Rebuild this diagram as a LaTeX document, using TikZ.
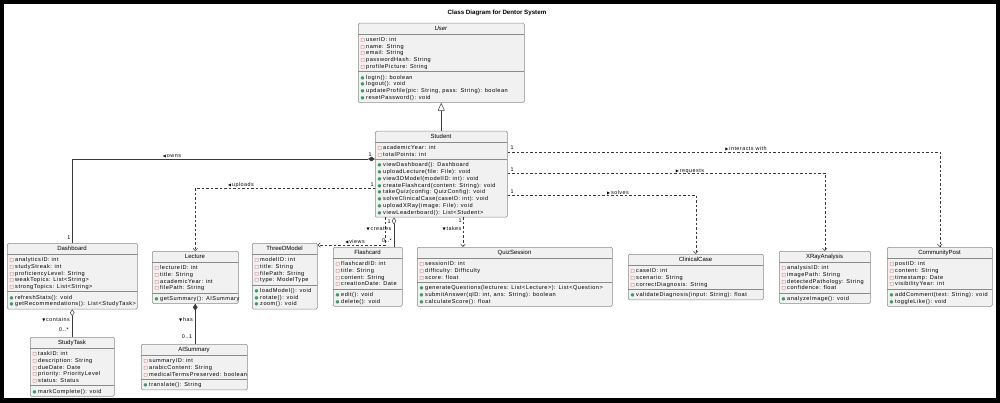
\documentclass[tikz,border=0pt]{standalone}
\usepackage{fontspec}
\setmainfont{Liberation Sans}
\newfontfamily\cff[LetterSpace=9]{Liberation Sans}
\newfontfamily\symf{DejaVu Sans}
\usetikzlibrary{arrows.meta}
\definecolor{boxfill}{HTML}{F1F1F1}
\definecolor{boxline}{HTML}{8A8A8A}
\definecolor{privred}{HTML}{C82930}
\definecolor{pubgreen}{HTML}{3E9A64}
\definecolor{lnk}{HTML}{3A3A3A}
\newcommand{\cfont}{\cff\fontsize{5.6}{6.75}\selectfont}
\newcommand{\pv}{\makebox[5.5pt][l]{\symf\fontsize{4.5}{5}\selectfont\textcolor{privred}{□}}}
\newcommand{\pb}{\makebox[5.5pt][l]{\symf\fontsize{4.5}{5}\selectfont\textcolor{pubgreen}{●}}}
\newcommand{\tri}[1]{{\symf\fontsize{4}{5}\selectfont #1}\,}
\tikzset{
  cbox/.style={draw=boxline, fill=boxfill, rounded corners=1.2pt, line width=0.5pt, inner sep=0pt, anchor=north west},
  sepline/.style={draw=boxline, line width=0.5pt},
  ctitle/.style={font=\fontsize{6}{7}\selectfont, inner sep=0pt, anchor=center},
  clines/.style={font=\cfont, inner sep=0pt, anchor=base west},
  lbl/.style={font=\cff\fontsize{5.4}{6}\selectfont, inner sep=0.5pt, text=black},
  dep/.style={draw=lnk, line width=0.5pt, dash pattern=on 2.5pt off 2pt, -{Straight Barb[length=2.5pt,width=4.5pt]}},
  comp/.style={draw=lnk, line width=0.5pt, {Diamond[length=7pt,width=4.5pt]}-},
  agg/.style={draw=lnk, line width=0.5pt, {Diamond[open,length=7pt,width=4.5pt]}-},
  inh/.style={draw=lnk, line width=0.5pt, -{Triangle[open,length=8pt,width=7pt]}}
}
\newcommand{\umlclass}[9]{%
  \pgfmathsetmacro\Chy{#4+11}%
  \pgfmathsetmacro\Cay{\Chy+7.5+(#5-1)*6.75+3.2}%
  \pgfmathsetmacro\Cby{\Cay+7.5+(#6-1)*6.75+2.8}%
  \pgfmathsetmacro\Cbw{#3-#2}%
  \pgfmathsetmacro\Cbh{\Cby-#4}%
  \node[cbox, minimum width=\Cbw pt, minimum height=\Cbh pt] (#1) at (#2,#4) {};
  \draw[sepline] (#2,\Chy) -- (#3,\Chy);
  \draw[sepline] (#2,\Cay) -- (#3,\Cay);
  \node[ctitle] (#1-t) at ({(#2+#3)/2},{#4+5.7}) {#7};
  \node[clines] (#1-a) at (#2+2.5,\Chy+7.5) {\begin{tabular}[t]{@{}l@{}}#8\end{tabular}};
  \node[clines] (#1-m) at (#2+2.5,\Cay+7.5) {\begin{tabular}[t]{@{}l@{}}#9\end{tabular}};
}
\begin{document}
\begin{tikzpicture}[x=1pt,y=-1pt]
\useasboundingbox (0,0) rectangle (1000,403);
\fill[black] (0,0) rectangle (1000,403);
\fill[white] (4,4) rectangle (996,398);
\node[font=\bfseries\fontsize{6.2}{7}\selectfont] (title) at (497,13) {Class Diagram for Dentor System};

\umlclass{user}{358}{524}{23}{5}{4}{\textit{User}}
 {\pv userID: int\\ \pv name: String\\ \pv email: String\\ \pv passwordHash: String\\ \pv profilePicture: String}
 {\pb login(): boolean\\ \pb logout(): void\\ \pb updateProfile(pic: String, pass: String): boolean\\ \pb resetPassword(): void}

\umlclass{student}{375}{507}{131}{2}{8}{Student}
 {\pv academicYear: int\\ \pv totalPoints: int}
 {\pb viewDashboard(): Dashboard\\ \pb uploadLecture(file: File): void\\ \pb view3DModel(modelID: int): void\\ \pb createFlashcard(content: String): void\\ \pb takeQuiz(config: QuizConfig): void\\ \pb solveClinicalCase(caseID: int): void\\ \pb uploadXRay(image: File): void\\ \pb viewLeaderboard(): List<Student>}

\umlclass{dashboard}{7}{137}{243}{5}{2}{Dashboard}
 {\pv analyticsID: int\\ \pv studyStreak: int\\ \pv proficiencyLevel: String\\ \pv weakTopics: List<String>\\ \pv strongTopics: List<String>}
 {\pb refreshStats(): void\\ \pb getRecommendations(): List<StudyTask>}

\umlclass{studytask}{30}{114}{337}{5}{1}{StudyTask}
 {\pv taskID: int\\ \pv description: String\\ \pv dueDate: Date\\ \pv priority: PriorityLevel\\ \pv status: Status}
 {\pb markComplete(): void}

\umlclass{lecture}{152}{238}{251}{4}{1}{Lecture}
 {\pv lectureID: int\\ \pv title: String\\ \pv academicYear: int\\ \pv filePath: String}
 {\pb getSummary(): AISummary}

\umlclass{aisum}{141}{247}{344}{3}{1}{AISummary}
 {\pv summaryID: int\\ \pv arabicContent: String\\ \pv medicalTermsPreserved: boolean}
 {\pb translate(): String}

\umlclass{threed}{252}{317}{243}{4}{3}{ThreeDModel}
 {\pv modelID: int\\ \pv title: String\\ \pv filePath: String\\ \pv type: ModelType}
 {\pb loadModel(): void\\ \pb rotate(): void\\ \pb zoom(): void}

\umlclass{flashcard}{333}{402}{247}{4}{2}{Flashcard}
 {\pv flashcardID: int\\ \pv title: String\\ \pv content: String\\ \pv creationDate: Date}
 {\pb edit(): void\\ \pb delete(): void}

\umlclass{quiz}{417}{612}{247}{3}{3}{QuizSession}
 {\pv sessionID: int\\ \pv difficulty: Difficulty\\ \pv score: float}
 {\pb generateQuestions(lectures: List<Lecture>): List<Question>\\ \pb submitAnswer(qID: int, ans: String): boolean\\ \pb calculateScore(): float}

\umlclass{clinical}{628}{763}{254}{3}{1}{ClinicalCase}
 {\pv caseID: int\\ \pv scenario: String\\ \pv correctDiagnosis: String}
 {\pb validateDiagnosis(input: String): float}

\umlclass{xray}{779}{870}{251}{4}{1}{XRayAnalysis}
 {\pv analysisID: int\\ \pv imagePath: String\\ \pv detectedPathology: String\\ \pv confidence: float}
 {\pb analyzeImage(): void}

\umlclass{community}{887}{992}{247}{4}{2}{CommunityPost}
 {\pv postID: int\\ \pv content: String\\ \pv timestamp: Date\\ \pv visibilityYear: int}
 {\pb addComment(text: String): void\\ \pb toggleLike(): void}

% connectors
\draw[inh] (student.north) -- (student.north |- user.south);
\draw[comp] ([yshift=-28pt]student.north west) -| (dashboard.north);
\draw[dep] ([yshift=-57pt]student.north west) -| (lecture.north);
\draw[dep] ([yshift=-21pt]student.north east) -| (community.north);
\draw[dep] ([yshift=-42pt]student.north east) -| (xray.north);
\draw[dep] ([yshift=-64pt]student.north east) -| (clinical.north);
\coordinate (tk) at ([xshift=88pt]student.south west);
\draw[dep] (tk) -- (tk |- quiz.north);
\coordinate (cr) at ([xshift=19pt]student.south west);
\draw[agg] (cr) -- (cr |- flashcard.north);
\coordinate (vw) at ([xshift=10pt]student.south west);
\draw[dep] (vw) |- ([yshift=-2pt]threed.north east);
\draw[agg] (dashboard.south) -- (studytask.north);
\draw[comp] (lecture.south) -- (lecture.south |- aisum.north);

% labels
\node[lbl] (l-owns) at (172,156) {\tri{◀}owns};
\node[lbl] (m-owns1) at (370,155) {1};
\node[lbl] (m-owns2) at (69,238) {1};
\node[lbl] (l-upl) at (241,185) {\tri{◀}uploads};
\node[lbl] (m-upl) at (372,185) {1};
\node[lbl] (l-int) at (746,149) {\tri{▶}interacts with};
\node[lbl] (m-int) at (512,148) {1};
\node[lbl] (l-req) at (690,171) {\tri{▶}requests};
\node[lbl] (m-req) at (512,170) {1};
\node[lbl] (l-sol) at (618,193) {\tri{▶}solves};
\node[lbl] (m-sol) at (512,192) {1};
\node[lbl] (l-tak) at (452,229) {\tri{▼}takes};
\node[lbl] (m-tak) at (460,221) {1};
\node[lbl] (l-cre) at (379,229) {\tri{▼}creates};
\node[lbl] (m-cre1) at (389,222) {1};
\node[lbl] (m-cre2) at (387,241) {0..*};
\node[lbl] (l-vie) at (355,242) {\tri{◀}views};
\node[lbl] (l-con) at (56,320) {\tri{▼}contains};
\node[lbl] (m-con) at (64,330) {0..*};
\node[lbl] (l-has) at (186,320) {\tri{▼}has};
\node[lbl] (m-has) at (187,337) {0..1};
\end{tikzpicture}
\end{document}
